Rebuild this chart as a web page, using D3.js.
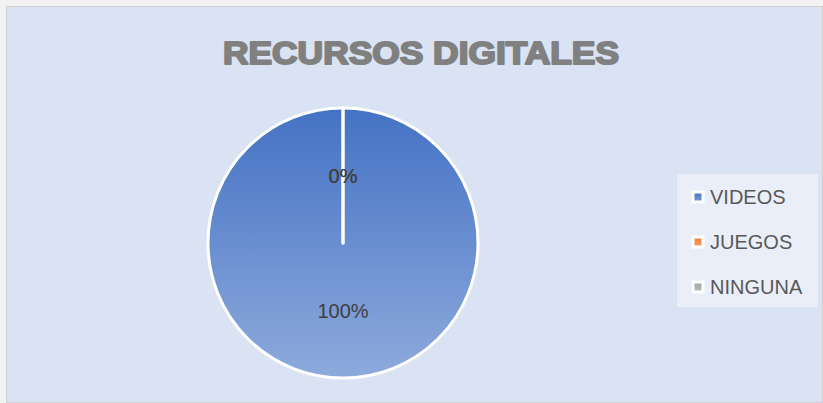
<!DOCTYPE html>
<html>
<head>
<meta charset="utf-8">
<script src="https://cdn.jsdelivr.net/npm/d3@7"></script>
<style>
  body { margin: 0; background: #ffffff; }
  svg { display: block; }
</style>
</head>
<body>
<div id="chart"></div>
<script>
// Data
const categories = ['VIDEOS', 'JUEGOS', 'NINGUNA'];
const values = [100, 0, 0];
const colors = ['#4472c4', '#ed7d31', '#a5a5a5'];
const title = 'RECURSOS DIGITALES';

const W = 823, H = 403;

const svg = d3.select('#chart').append('svg')
    .attr('width', W)
    .attr('height', H);

// Gradients for the slices and legend keys
const defs = svg.append('defs');
const grad = defs.append('linearGradient')
    .attr('id', 'g0')
    .attr('x1', 0).attr('y1', 0).attr('x2', 0).attr('y2', 1);
grad.append('stop').attr('offset', '0%').attr('stop-color', '#4472c4');
grad.append('stop').attr('offset', '100%').attr('stop-color', '#8eaadc');

const keyGrads = [['#4472c4', '#7f9bd8'], ['#ed7d31', '#f4a06c'], ['#a5a5a5', '#bdbdbd']];
keyGrads.forEach(function(c, i) {
    const g = defs.append('linearGradient')
        .attr('id', 'k' + i)
        .attr('x1', 0).attr('y1', 0).attr('x2', 0).attr('y2', 1);
    g.append('stop').attr('offset', '0%').attr('stop-color', c[0]);
    g.append('stop').attr('offset', '100%').attr('stop-color', c[1]);
});

// Chart area background + border
svg.append('rect')
    .attr('x', 0).attr('y', 0)
    .attr('width', W).attr('height', H)
    .attr('fill', '#f2f2f2');
svg.append('rect')
    .attr('x', 6.5).attr('y', 6.5)
    .attr('width', W - 7).attr('height', H - 7)
    .attr('fill', '#dae3f3')
    .attr('stroke', '#d0d0d0');

// Title
svg.append('text')
    .attr('x', 421)
    .attr('y', 64)
    .attr('text-anchor', 'middle')
    .attr('font-family', 'Liberation Sans, Arial, sans-serif')
    .attr('font-weight', 'bold')
    .attr('font-size', 32)
    .attr('fill', '#808080')
    .attr('stroke', '#808080')
    .attr('stroke-width', 2)
    .attr('stroke-linejoin', 'round')
    .attr('textLength', 396)
    .attr('lengthAdjust', 'spacingAndGlyphs')
    .text(title);

// Pie
const cx = 343, cy = 243, r = 135;
const pie = d3.pie().sort(null).value(d => d.value);
const arcs = pie(categories.map((c, i) => ({ name: c, value: values[i] })));
const arc = d3.arc().innerRadius(0).outerRadius(r);

const g = svg.append('g')
    .attr('transform', 'translate(' + cx + ',' + cy + ')');

g.selectAll('path')
    .data(arcs)
    .enter().append('path')
    .attr('d', arc)
    .attr('fill', (d, i) => i === 0 ? 'url(#g0)' : colors[i])
    .attr('stroke', '#ffffff')
    .attr('stroke-width', 3)
    .attr('stroke-linejoin', 'round')
    .attr('stroke-linecap', 'round');

// Data labels
g.selectAll('text.lbl')
    .data(arcs)
    .enter().append('text')
    .attr('class', 'lbl')
    .attr('transform', d => 'translate(' + arc.centroid(d) + ')')
    .attr('text-anchor', 'middle')
    .attr('dy', '0.35em')
    .attr('font-family', 'Liberation Sans, Arial, sans-serif')
    .attr('font-size', 20)
    .attr('fill', '#404040')
    .text(d => Math.round(d.data.value) + '%');

// Legend
const legend = svg.append('g');
legend.append('rect')
    .attr('x', 677).attr('y', 174)
    .attr('width', 141).attr('height', 133)
    .attr('fill', '#e9eef8');

const ly = d3.scalePoint()
    .domain(categories)
    .range([197, 287]);

const items = legend.selectAll('g.item')
    .data(categories)
    .enter().append('g')
    .attr('class', 'item')
    .attr('transform', d => 'translate(0,' + ly(d) + ')');

items.append('rect')
    .attr('x', 693).attr('y', -5)
    .attr('width', 10).attr('height', 10)
    .attr('fill', (d, i) => 'url(#k' + i + ')')
    .attr('stroke', '#ffffff')
    .attr('stroke-width', 3);

items.append('text')
    .attr('x', 710)
    .attr('y', 0)
    .attr('dy', '0.35em')
    .attr('font-family', 'Liberation Sans, Arial, sans-serif')
    .attr('font-size', 20)
    .attr('fill', '#595959')
    .text(d => d);
</script>
</body>
</html>
